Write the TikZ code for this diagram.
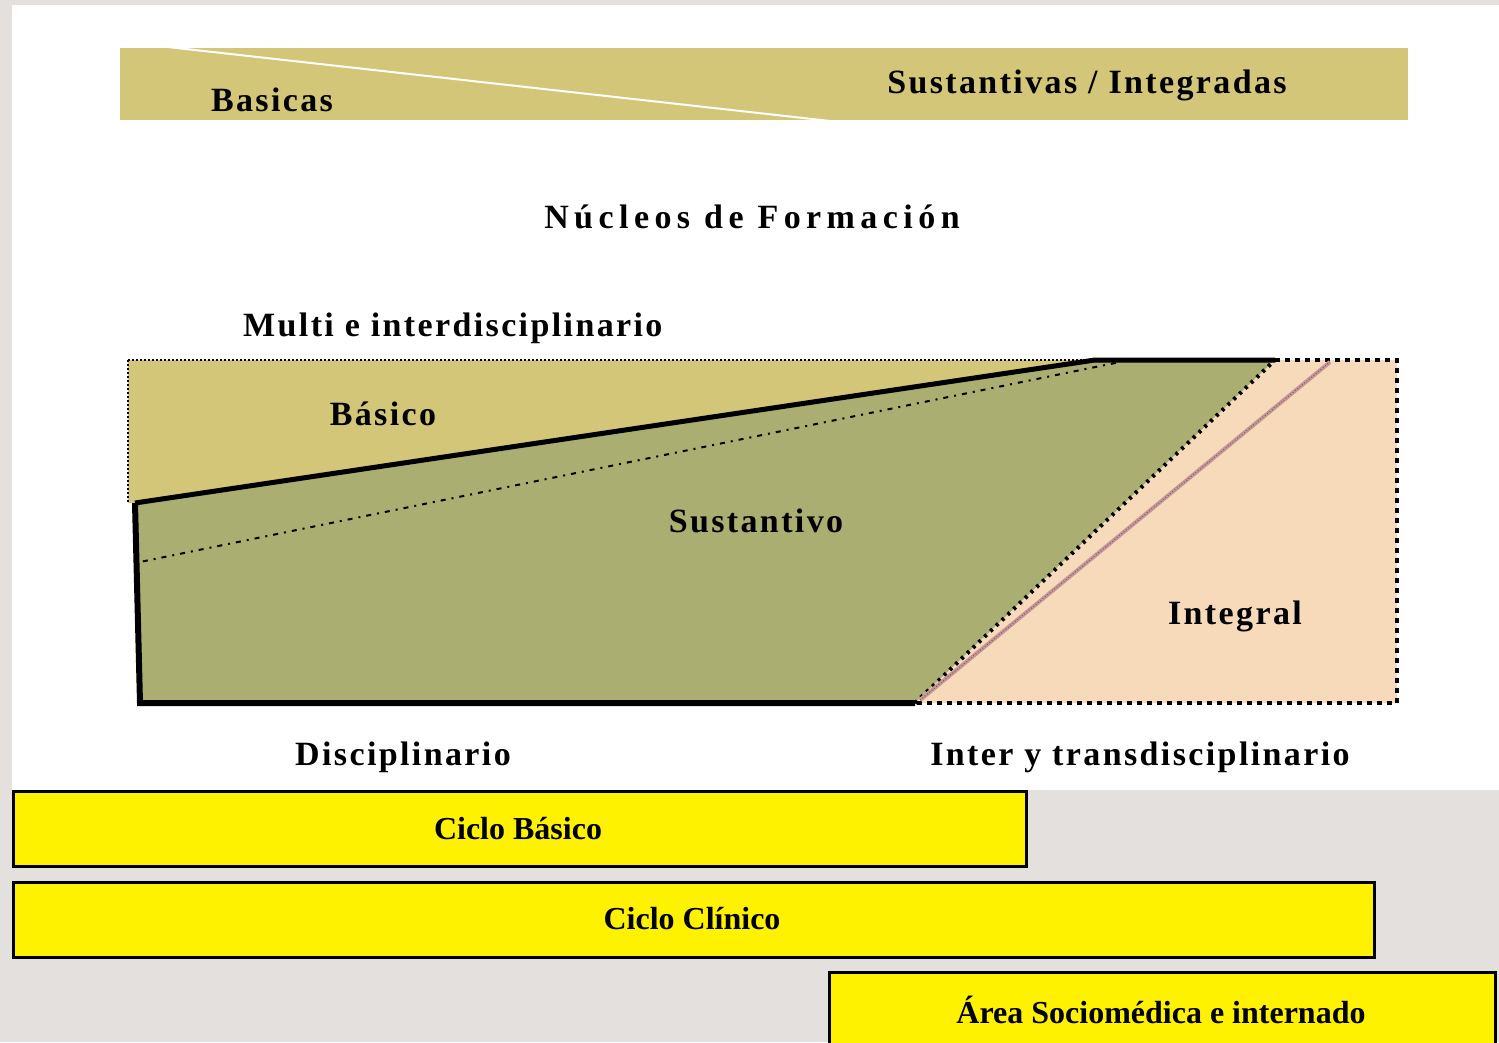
\documentclass[tikz,border=0pt]{standalone}
\usepackage{fontspec}
\setmainfont{Liberation Serif}
\newfontfamily\lblfont[LetterSpace=7]{Liberation Serif}
\newfontfamily\ttlfont[LetterSpace=16]{Liberation Serif}
\begin{document}
\begin{tikzpicture}[x=1pt,y=-1pt,
  lbl/.style={font=\lblfont\bfseries\fontsize{34}{36}\selectfont, inner sep=0pt, yshift=-3pt},
  cyc/.style={draw=black, line width=2.5pt, fill=yellow, inner sep=0pt},
  cyctext/.style={font=\bfseries\fontsize{32}{34}\selectfont, inner sep=0pt},
]
\definecolor{bgphoto}{RGB}{228,224,222}
\definecolor{khaki}{RGB}{212,198,120}
\definecolor{sgreen}{RGB}{170,174,112}
\definecolor{peach}{RGB}{246,218,186}
\definecolor{pinkline}{RGB}{200,150,150}
\useasboundingbox (0,0) rectangle (1499,1042);
% background
\fill[bgphoto] (0,0) rectangle (1499,1042);
\fill[white] (12,5) rectangle (1499,790);
% top band
\fill[khaki] (120,48) rectangle (1408,120);
\draw[white, line width=2pt] (150,45) -- (830,121);
\node[lbl] (basicas) at (272,97) {Basicas};
\node[lbl] (sustint) at (1087,82) {Sustantivas / Integradas};
% title
\node[lbl, font=\ttlfont\bfseries\fontsize{34}{36}\selectfont] (nucleos) at (752,214) {Núcleos de Formación};
\node[lbl, anchor=west] (multi) at (243,325) {Multi e interdisciplinario};
% regions
\coordinate (TL) at (128,360);
\coordinate (TR) at (1397,360);
\coordinate (BR) at (1397,703);
\coordinate (A) at (135,503);
\coordinate (B) at (1095,360);
\coordinate (C) at (1275,360);
\coordinate (D) at (915,703);
\coordinate (E) at (140,703);
\fill[khaki] (TL) -- (B) -- (A) -- (128,503) -- cycle;
\fill[sgreen] (A) -- (B) -- (C) -- (D) -- (E) -- cycle;
\fill[peach] (C) -- (TR) -- (BR) -- (D) -- cycle;
% borders
\draw[black, line width=2pt, dotted] (TL) -- (B);
\draw[black, line width=2pt, dotted] (TL) -- (128,503);
\draw[black, line width=3.5pt, dash pattern=on 5pt off 5pt] (C) -- (TR) -- (BR) -- (D);
\draw[black, line width=5pt, line join=round] (A) -- (B) -- (C);
\draw[black, line width=6pt] (A) -- (E) -- (D);
\draw[black, line width=2pt, dash pattern=on 2pt off 6pt on 5pt off 6pt] (135,563) -- (1120,362);
\draw[black, line width=4pt, dash pattern=on 3pt off 5pt] (D) -- (C);
\draw[pinkline, line width=4pt] (920,700) -- (1330,362);
\draw[black!60, line width=1pt, dotted] (920,700) -- (1330,362);
% labels
\node[lbl] (basico) at (383,411) {Básico};
\node[lbl] (sustantivo) at (756,518) {Sustantivo};
\node[lbl] (integral) at (1235,613) {Integral};
\node[lbl] (disc) at (403,754) {Disciplinario};
\node[lbl] (inter) at (1140,754) {Inter y transdisciplinario};
% cycle boxes
\node[cyc, minimum width=1013pt, minimum height=75pt, anchor=north west] (cb) at (12,790) {};
\node[cyctext] (cbt) at (518,829) {Ciclo Básico};
\node[cyc, minimum width=1361pt, minimum height=75pt, anchor=north west] (cc) at (12,881) {};
\node[cyctext] (cct) at (692,919) {Ciclo Clínico};
\node[cyc, minimum width=666pt, minimum height=80pt, anchor=north west] (as) at (828,971) {};
\node[cyctext] (ast) at (1161,1010) {Área Sociomédica e internado};
\end{tikzpicture}
\end{document}
